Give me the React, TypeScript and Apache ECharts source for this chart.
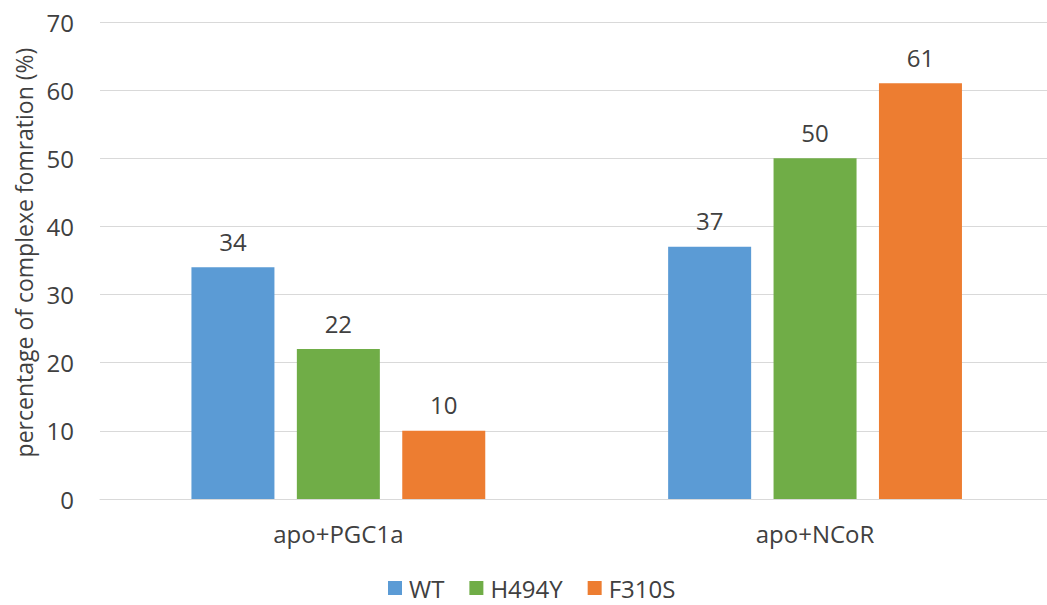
import React, { useEffect, useRef } from "react";
import * as echarts from "echarts";

const categories = ["apo+PGC1a", "apo+NCoR"];
const seriesNames = ["WT", "H494Y", "F310S"];
const wtValues = [34, 37];
const h494yValues = [22, 50];
const f310sValues = [10, 61];
const seriesColors = ["#5B9BD5", "#70AD47", "#ED7D31"];
const yTicks = { min: 0, max: 70, interval: 10 };
const yAxisTitle = "percentage of complexe fomration (%)";

const FONT = "'Open Sans', 'Noto Sans', sans-serif";
const TEXT = "#404040";

export default function App() {
  const ref = useRef<HTMLDivElement>(null);
  useEffect(() => {
    if (!ref.current) return;
    const chart = echarts.init(ref.current, undefined, { renderer: "svg" });
    const values = [wtValues, h494yValues, f310sValues];
    chart.setOption({
      animation: false,
      textStyle: { fontFamily: FONT },
      grid: { left: 100, right: 10.6, top: 22, bottom: 106, containLabel: false },
      legend: {
        left: 388,
        top: 574,
        itemWidth: 14,
        itemHeight: 14,
        itemGap: 25,
        icon: "rect",
        padding: 0,
        textStyle: { fontFamily: FONT, fontSize: 24, color: TEXT, lineHeight: 28, padding: [0, 0, 0, 2] },
        data: seriesNames,
      },
      xAxis: {
        type: "category",
        data: categories,
        axisLine: { show: true, lineStyle: { color: "#D9D9D9", width: 1 } },
        axisTick: { show: false },
        axisLabel: { fontFamily: FONT, fontSize: 24, color: TEXT, margin: 22 },
      },
      yAxis: {
        type: "value",
        min: yTicks.min,
        max: yTicks.max,
        interval: yTicks.interval,
        name: yAxisTitle,
        nameLocation: "middle",
        nameGap: 64,
        nameRotate: 90,
        nameTextStyle: { fontFamily: FONT, fontSize: 23, color: TEXT, padding: [0, 0, 0, 16] },
        axisLine: { show: false },
        axisTick: { show: false },
        splitLine: { lineStyle: { color: "#D9D9D9", width: 1 } },
        axisLabel: { fontFamily: FONT, fontSize: 24, color: TEXT, margin: 26 },
      },
      series: seriesNames.map((name, i) => ({
        name,
        type: "bar",
        data: values[i],
        barWidth: 83,
        barGap: "27%",
        itemStyle: { color: seriesColors[i] },
        label: {
          show: true,
          position: "top",
          distance: 14,
          fontFamily: FONT,
          fontSize: 24,
          color: TEXT,
        },
      })),
    });
    return () => chart.dispose();
  }, []);
  return (
    <div
      ref={ref}
      style={{ position: "fixed", left: 0, top: 0, width: 1064, height: 605, background: "#fff" }}
    />
  );
}
